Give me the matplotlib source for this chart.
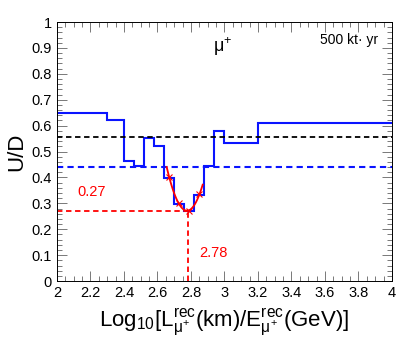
import matplotlib
matplotlib.use("Agg")
import matplotlib.pyplot as plt
import numpy as np
from matplotlib.ticker import MultipleLocator

plt.rcParams['font.family'] = ['Liberation Sans', 'DejaVu Sans']
plt.rcParams['mathtext.fontset'] = 'custom'
plt.rcParams['mathtext.rm'] = 'Liberation Sans'
plt.rcParams['mathtext.it'] = 'Liberation Sans'
plt.rcParams['mathtext.bf'] = 'Liberation Sans:bold'

# histogram bin edges and U/D ratio
edges = [2.0, 2.3, 2.4, 2.46, 2.52, 2.58, 2.64, 2.70, 2.76, 2.82, 2.88, 2.94, 3.0, 3.2, 4.0]
ud = [0.65, 0.62, 0.465, 0.445, 0.553, 0.522, 0.398, 0.299, 0.271, 0.332, 0.445, 0.581, 0.533, 0.612]

# points used for the parabola fit around the dip
fit_x = [2.67, 2.73, 2.79, 2.85]
fit_y = [0.40, 0.30, 0.27, 0.335]

black_level = 0.557
blue_level = 0.44
dip_x = 2.78
dip_y = 0.27

fig = plt.figure(figsize=(4.07, 3.44), dpi=100)
ax = fig.add_axes([0.140, 0.183, 0.823, 0.753])

ax.stairs(ud, edges, color='#0a14ff', lw=1.5, baseline=None)
ax.axhline(black_level, color='black', ls=(0, (3, 2)), lw=1.3)
ax.axhline(blue_level, color='#0a14ff', ls=(0, (3, 2)), lw=1.5)

coef = np.polyfit(fit_x, fit_y, 2)
xx = np.linspace(2.655, 2.87, 60)
ax.plot(xx, np.polyval(coef, xx), color='red', lw=1.3)
ax.plot(fit_x, fit_y, 'x', color='red', ms=4, mew=0.8)

ax.plot([2.0, dip_x], [dip_y, dip_y], color='red', ls=(0, (3, 2)), lw=1.3)
ax.plot([dip_x, dip_x], [0, dip_y], color='red', ls=(0, (3, 2)), lw=1.3)

ax.text(2.12, 0.33, f"{dip_y:.2f}", color='red', fontsize=10.5)
ax.text(2.85, 0.093, f"{dip_x:.2f}", color='red', fontsize=10.5)
ax.text(2.93, 0.885, "μ$^{+}$", fontsize=13)
ax.text(3.92, 0.915, "500 kt· yr", fontsize=10, ha='right')

ax.set_xlim(2, 4)
ax.set_ylim(0, 1)
ax.xaxis.set_major_locator(MultipleLocator(0.2))
ax.xaxis.set_minor_locator(MultipleLocator(0.05))
ax.yaxis.set_major_locator(MultipleLocator(0.1))
ax.yaxis.set_minor_locator(MultipleLocator(0.02))
ax.set_xticklabels([f"{v:g}" for v in ax.get_xticks()])
ax.set_yticklabels([f"{v:g}" for v in ax.get_yticks()])
ax.tick_params(which='both', direction='in', top=True, right=True, labelsize=10.5, width=0.5, color='#444444')
ax.tick_params(which='major', length=7)
ax.tick_params(which='minor', length=3.5)
for s in ax.spines.values():
    s.set_linewidth(0.7)

ax.set_ylabel("U/D", fontsize=16, labelpad=3)
ax.set_xlabel(r"Log$_{10}$[L$^{\rm rec}_{\mu^{+}}$(km)/E$^{\rm rec}_{\mu^{+}}$(GeV)]", fontsize=16, labelpad=5)

fig.savefig("out.png", dpi=100)
